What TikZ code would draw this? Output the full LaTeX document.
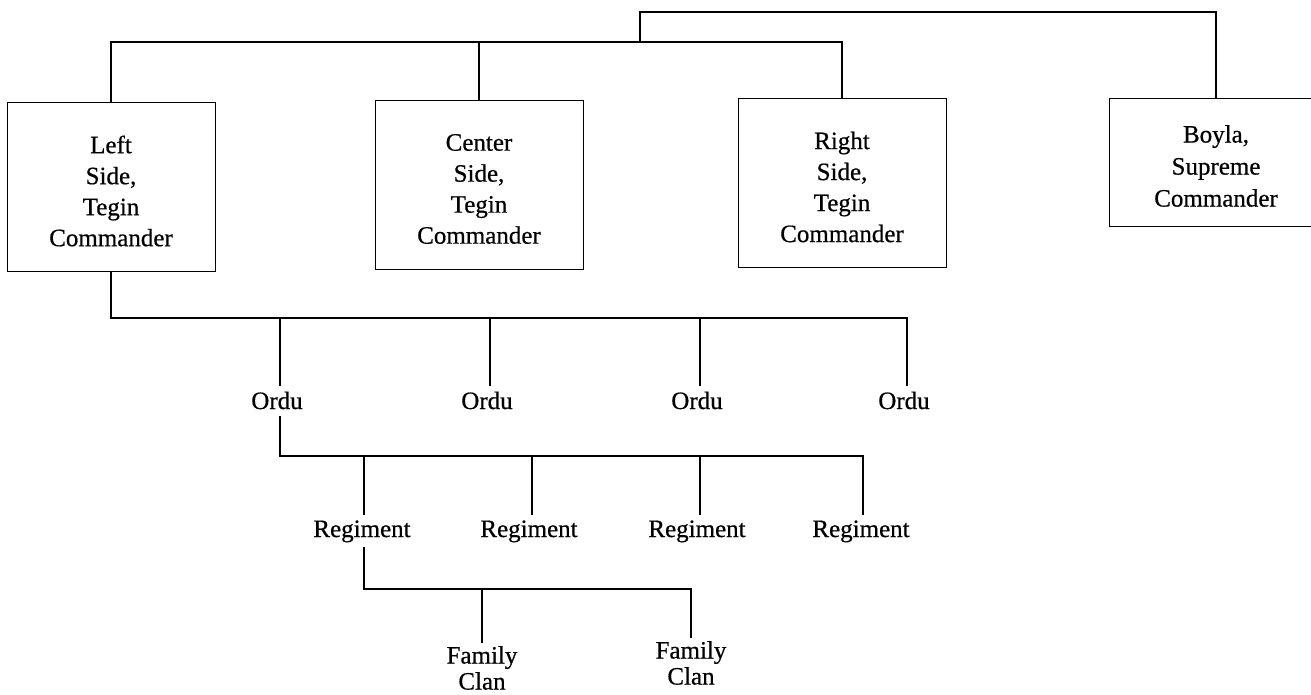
\documentclass[tikz,border=0pt]{standalone}
\usepackage{fontspec}
\setmainfont[FakeBold=0.6]{Liberation Serif}
\begin{document}
\begin{tikzpicture}[x=1pt,y=-1pt,
  box/.style={draw,line width=1pt,minimum width=208pt,minimum height=168pt,inner sep=0pt},
  boxtxt/.style={text width=200pt,align=center,font=\fontsize{25}{31}\selectfont,inner sep=0pt},
  ordu/.style={font=\fontsize{25}{31}\selectfont,anchor=base,inner xsep=2pt,inner ysep=7pt,text height=16pt,text depth=0pt},
  regim/.style={font=\fontsize{25}{31}\selectfont,anchor=base,inner xsep=2pt,inner ysep=8pt,text height=14pt,text depth=2pt},
  clan/.style={font=\fontsize{25}{26}\selectfont,anchor=north,align=center,inner sep=3pt},
  conn/.style={line width=1.6pt}]
\useasboundingbox (0,0) rectangle (1311,695);

% boxes
\node[box] (left) at (111,187) {};
\node[boxtxt] (lefttxt) at (111,191) {Left\\Side,\\Tegin\\Commander};
\node[box] (center) at (479,185) {};
\node[boxtxt] (centertxt) at (479,189) {Center\\Side,\\Tegin\\Commander};
\node[box] (right) at (842,183) {};
\node[boxtxt] (righttxt) at (842,187) {Right\\Side,\\Tegin\\Commander};
\node[box,minimum height=127pt,minimum width=214pt] (boyla) at (1216,162.5) {};
\node[boxtxt,font=\fontsize{25}{32}\selectfont] (boylatxt) at (1216,166) {Boyla,\\Supreme\\Commander};

% ordu
\node[ordu] (o1) at (277,409) {Ordu};
\node[ordu] (o2) at (487,409) {Ordu};
\node[ordu] (o3) at (697,409) {Ordu};
\node[ordu] (o4) at (904,409) {Ordu};

% regiments
\node[regim] (r1) at (362,537) {Regiment};
\node[regim] (r2) at (529,537) {Regiment};
\node[regim] (r3) at (697,537) {Regiment};
\node[regim] (r4) at (861,537) {Regiment};

% family clans
\node[clan] (f1) at (482,643) {Family\\Clan};
\node[clan] (f2) at (691,638) {Family\\Clan};

% bus levels
\coordinate (busTop) at (0,12);
\coordinate (busA) at (0,42);
\coordinate (joinA) at (640,42);
\coordinate (busB) at (0,318);
\coordinate (busC) at (0,456);
\coordinate (busD) at (0,589);

% drop positions
\coordinate (dO1) at (280,318);
\coordinate (dO2) at (490,318);
\coordinate (dO3) at (700,318);
\coordinate (dO4) at (907,318);
\coordinate (dR1) at (364,456);
\coordinate (dR2) at (532,456);
\coordinate (dR3) at (700,456);
\coordinate (dR4) at (863,456);

% top connectors
\draw[conn] (left.north) -- (left.north |- busA) -- (right.north |- busA) -- (right.north);
\draw[conn] (center.north) -- (center.north |- busA);
\draw[conn] (joinA) -- (joinA |- busTop) -- (boyla.north |- busTop) -- (boyla.north);

% left side to ordus
\draw[conn] (left.south) -- (left.south |- busB) -- (dO4) -- (dO4 |- o4.north);
\draw[conn] (dO1) -- (dO1 |- o1.north);
\draw[conn] (dO2) -- (dO2 |- o2.north);
\draw[conn] (dO3) -- (dO3 |- o3.north);

% ordu to regiments
\draw[conn] (dO1 |- o1.south) -- (dO1 |- busC) -- (dR4) -- (dR4 |- r4.north);
\draw[conn] (dR1) -- (dR1 |- r1.north);
\draw[conn] (dR2) -- (dR2 |- r2.north);
\draw[conn] (dR3) -- (dR3 |- r3.north);

% regiment to family clans
\draw[conn] (dR1 |- r1.south) -- (dR1 |- busD) -- (f2.north |- busD) -- (f2.north);
\draw[conn] (f1.north |- busD) -- (f1.north);
\end{tikzpicture}
\end{document}
